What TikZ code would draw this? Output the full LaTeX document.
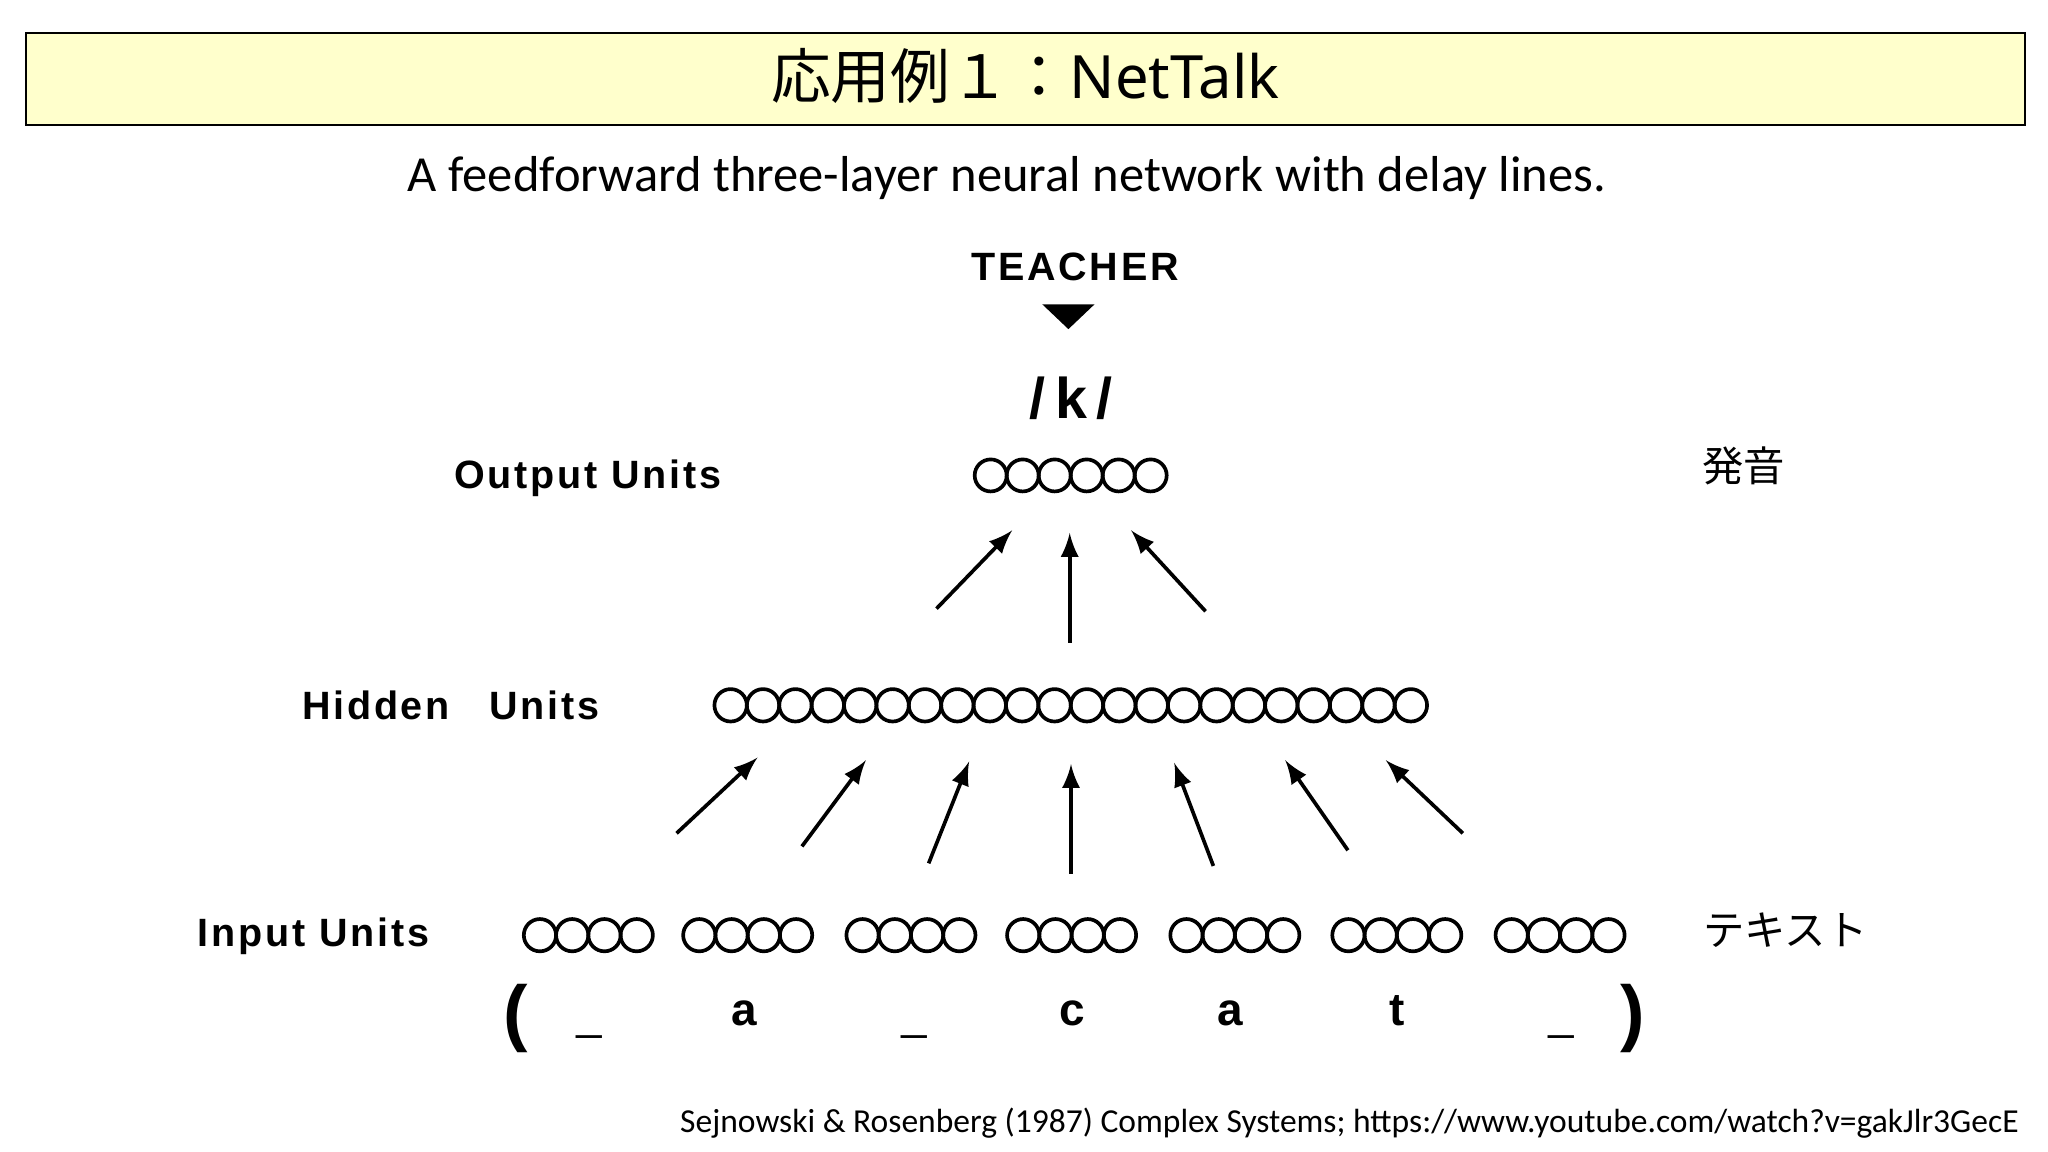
\documentclass[tikz,border=0pt]{standalone}
\usepackage{fontspec}
\setmainfont{Carlito}
\newfontfamily\cjk{Noto Sans CJK JP}
\newfontfamily\hv{Liberation Sans}
\newfontfamily\hvs[LetterSpace=7]{Liberation Sans}
\tikzset{
  unit/.style={circle,draw,thick,inner sep=0pt},
  lbl/.style={font=\hvs\bfseries\fontsize{8.6}{10}\selectfont},
  arr/.style={-latex,thick},
}
\begin{document}
\begin{tikzpicture}[x=0.01cm,y=-0.01cm]
\useasboundingbox (0,0) rectangle (1568,882);
\node[draw,fill={rgb,255:red,255;green,255;blue,204},minimum width=1530*0.2845pt,minimum height=71*0.2845pt,inner sep=0pt] (title) at (785,60.5) {};
\node (tt) at (785,58) {\cjk\fontsize{13}{15}\selectfont 応用例１：\fontspec{Noto Sans}NetTalk};
\node (sub) at (771,136) {\fontsize{11}{13}\selectfont A feedforward three-layer neural network with delay lines.};
\node[font=\hvs\bfseries\fontsize{8.6}{10}\selectfont] (teacher) at (823,204) {TEACHER};
\fill (798,233) -- (838,233) -- (818,252) -- cycle;
\node[font=\hv\bfseries\fontsize{12.5}{14}\selectfont] (k) at (820,305) {/\,k\,/};
\node[lbl] (ol) at (450,366) {Output Units};
\node[lbl] (hl) at (345,540) {Hidden\quad Units};
\node[lbl] (il) at (240,717) {Input Units};
\foreach \i in {0,...,5} \node[unit,minimum size=24.5*0.2845pt] (o\i) at (758.5+24.5*\i,364) {};
\foreach \i in {0,...,21} \node[unit,minimum size=24.8*0.2845pt] (h\i) at (559.4+24.8*\i,540) {};
\foreach \s [count=\g] in {401,523,648,771,896,1020,1145}
  \foreach \j in {0,...,3} \node[unit,minimum size=24.7*0.2845pt] (in\g\j) at (\s+12.4+24.7*\j,716) {};
\coordinate (a1) at (717,466); \coordinate (b1) at (775,406);
\coordinate (a2) at (819,492); \coordinate (b2) at (819,408);
\coordinate (a3) at (923,468); \coordinate (b3) at (866,406);
\foreach \i in {1,2,3} \draw[arr] (a\i) -- (b\i);
\coordinate (c1) at (518,638); \coordinate (d1) at (580,580);
\coordinate (c2) at (614,648); \coordinate (d2) at (663,582);
\coordinate (c3) at (711,661); \coordinate (d3) at (742,583);
\coordinate (c4) at (820,669); \coordinate (d4) at (820,585);
\coordinate (c5) at (929,663); \coordinate (d5) at (899,584);
\coordinate (c6) at (1032,651); \coordinate (d6) at (984,582);
\coordinate (c7) at (1120,638); \coordinate (d7) at (1061,582);
\foreach \i in {1,...,7} \draw[arr] (c\i) -- (d\i);
\node[font=\hv\bfseries\fontsize{16}{18}\selectfont] (lp) at (395,780) {(};
\node[font=\hv\bfseries\fontsize{16}{18}\selectfont] (rp) at (1250,780) {)};
\foreach \x/\t/\n in {570/a/x1,821/c/x2,942/a/x3,1070/t/x4}
  \node[font=\hv\bfseries\fontsize{10}{12}\selectfont,anchor=base] (\n) at (\x,785) {\t};
\foreach \x/\n in {451/u1,700/u2,1195/u3}
  \node[font=\hv\bfseries\fontsize{10}{12}\selectfont,anchor=base,yscale=1.6] (\n) at (\x,788) {\_};
\node[font=\cjk\fontsize{9}{11}\selectfont] (p) at (1335,357) {発音};
\node[font=\cjk\fontsize{9}{11}\selectfont] (tx) at (1367,712) {テキスト};
\node[anchor=east,font=\fontsize{7.3}{9}\selectfont] (cite) at (1558,860) {Sejnowski \& Rosenberg (1987) Complex Systems; https://www.youtube.com/watch?v=gakJlr3GecE};
\end{tikzpicture}
\end{document}
